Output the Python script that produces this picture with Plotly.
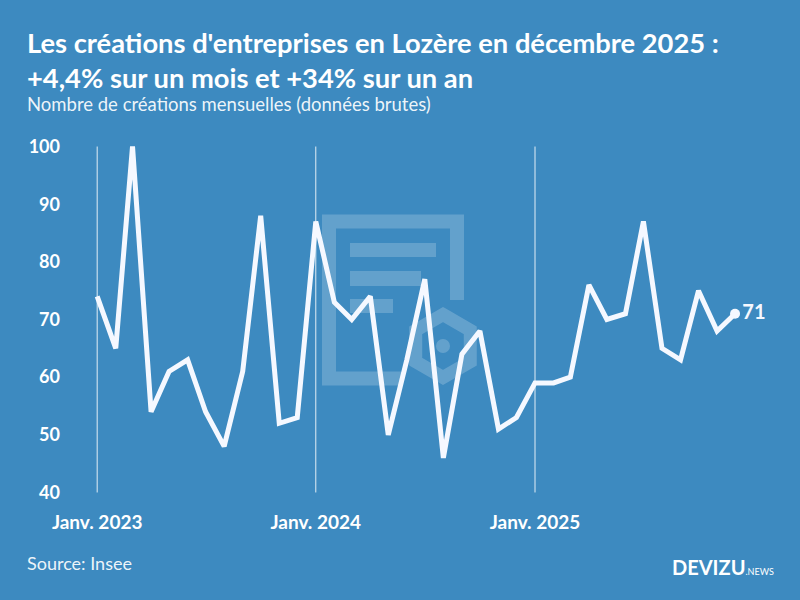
import plotly.graph_objects as go

# ---- data ----
months = [
    "2023-01-01", "2023-02-01", "2023-03-01", "2023-04-01", "2023-05-01", "2023-06-01",
    "2023-07-01", "2023-08-01", "2023-09-01", "2023-10-01", "2023-11-01", "2023-12-01",
    "2024-01-01", "2024-02-01", "2024-03-01", "2024-04-01", "2024-05-01", "2024-06-01",
    "2024-07-01", "2024-08-01", "2024-09-01", "2024-10-01", "2024-11-01", "2024-12-01",
    "2025-01-01", "2025-02-01", "2025-03-01", "2025-04-01", "2025-05-01", "2025-06-01",
    "2025-07-01", "2025-08-01", "2025-09-01", "2025-10-01", "2025-11-01", "2025-12-01",
]
creations = [
    74, 65, 100, 54, 61, 63, 54, 48, 61, 88, 52, 53,
    87, 73, 70, 74, 50, 63, 77, 46, 64, 68, 51, 53,
    59, 59, 60, 76, 70, 71, 87, 65, 63, 75, 68, 71,
]
year_ticks = ["2023-01-01", "2024-01-01", "2025-01-01"]
year_labels = ["Janv. 2023", "Janv. 2024", "Janv. 2025"]
y_ticks = [40, 50, 60, 70, 80, 90, 100]

title1 = "Les créations d'entreprises en Lozère en décembre 2025 :"
title2 = "+4,4% sur un mois et +34% sur un an"
subtitle = "Nombre de créations mensuelles (données brutes)"
source = "Source: Insee"

# ---- layout geometry ----
W, H = 800, 600
L, R, T, B = 87, 38, 135, 96
BG = "rgb(61,138,192)"
WHITE = "#f5f8ff"
FONT = "Lato, Open Sans, sans-serif"


def px(x):
    return (x - L) / (W - L - R)


def py(y):
    return (H - B - y) / (H - T - B)


fig = go.Figure()
fig.add_trace(go.Scatter(
    x=months, y=creations, mode="lines",
    line=dict(color=WHITE, width=5),
    hoverinfo="skip", showlegend=False,
))
fig.add_trace(go.Scatter(
    x=[months[-1]], y=[creations[-1]], mode="markers+text",
    marker=dict(color=WHITE, size=10),
    text=[str(creations[-1])], textposition="middle right",
    textfont=dict(family=FONT, size=20, color=WHITE, weight="bold"),
    cliponaxis=False, hoverinfo="skip", showlegend=False,
))

shapes = []
# watermark (document + hexagon)
wm = "rgba(255,255,255,0.2)"


def path(points, close=False):
    s = "M " + " L ".join(f"{px(a):.5f},{py(b):.5f}" for a, b in points)
    return s + (" Z" if close else "")


shapes.append(dict(type="path", xref="paper", yref="paper", layer="below",
                   path=path([(457, 300), (457, 221.5), (329, 221.5), (329, 378.5), (401, 378.5)]),
                   line=dict(color=wm, width=14)))
for x0, x1, y0, y1 in [(350, 436, 243, 257), (350, 421, 271, 286), (350, 393, 299, 313)]:
    shapes.append(dict(type="rect", xref="paper", yref="paper", layer="below",
                       x0=px(x0), x1=px(x1), y0=py(y1), y1=py(y0),
                       fillcolor=wm, line=dict(width=0)))
cx, cy, r = 443, 346, 31.5
hexpts = [(cx, cy - r), (cx + r * 0.866, cy - r / 2), (cx + r * 0.866, cy + r / 2),
          (cx, cy + r), (cx - r * 0.866, cy + r / 2), (cx - r * 0.866, cy - r / 2)]
shapes.append(dict(type="path", xref="paper", yref="paper", layer="below",
                   path=path(hexpts, close=True), line=dict(color=wm, width=13)))
shapes.append(dict(type="circle", xref="paper", yref="paper", layer="below",
                   x0=px(cx - 7), x1=px(cx + 7), y0=py(cy + 7), y1=py(cy - 7),
                   fillcolor=wm, line=dict(width=0)))

# vertical year lines
for d in year_ticks:
    shapes.append(dict(type="line", xref="x", yref="y", layer="below",
                       x0=d, x1=d, y0=y_ticks[0], y1=y_ticks[-1],
                       line=dict(color="rgba(255,255,255,0.85)", width=1)))

annotations = [
    dict(text=f"<b>{title1}</b>", x=px(25), y=py(43)),
    dict(text=f"<b>{title2}</b>", x=px(25), y=py(77)),
    dict(text=subtitle, x=px(25), y=py(104), size=18.5, color="rgba(255,255,255,0.92)"),
    dict(text=source, x=px(25), y=py(563), size=18, color="rgba(255,255,255,0.92)"),
]
ann = []
for a in annotations:
    ann.append(dict(text=a["text"], x=a["x"], y=a["y"], xref="paper", yref="paper",
                    xanchor="left", yanchor="middle", showarrow=False,
                    font=dict(family=FONT, size=a.get("size", 27.3), color=a.get("color", "white"))))
ann.append(dict(text="<b>DEVIZU</b><span style='font-size:9px'>.NEWS</span>",
                x=px(776), y=py(567), xref="paper", yref="paper",
                xanchor="right", yanchor="middle", showarrow=False,
                font=dict(family=FONT, size=20, color="white")))

fig.update_layout(
    width=W, height=H,
    margin=dict(l=L, r=R, t=T, b=B, autoexpand=False),
    paper_bgcolor=BG, plot_bgcolor=BG,
    shapes=shapes, annotations=ann,
    xaxis=dict(range=["2022-12-15", "2026-01-15"], type="date",
               tickvals=year_ticks, ticktext=year_labels,
               showgrid=False, zeroline=False, showline=False, ticks="",
               ticklabelstandoff=5,
               tickfont=dict(family=FONT, size=19, color="white", weight="bold")),
    yaxis=dict(range=[38, 102], tickvals=y_ticks,
               showgrid=False, zeroline=False, showline=False, ticks="",
               ticklabelstandoff=26,
               tickfont=dict(family=FONT, size=18, color="white", weight="bold")),
)

fig.write_html("out.html", config={"displayModeBar": False},
               post_script="document.body.style.margin='0';")
